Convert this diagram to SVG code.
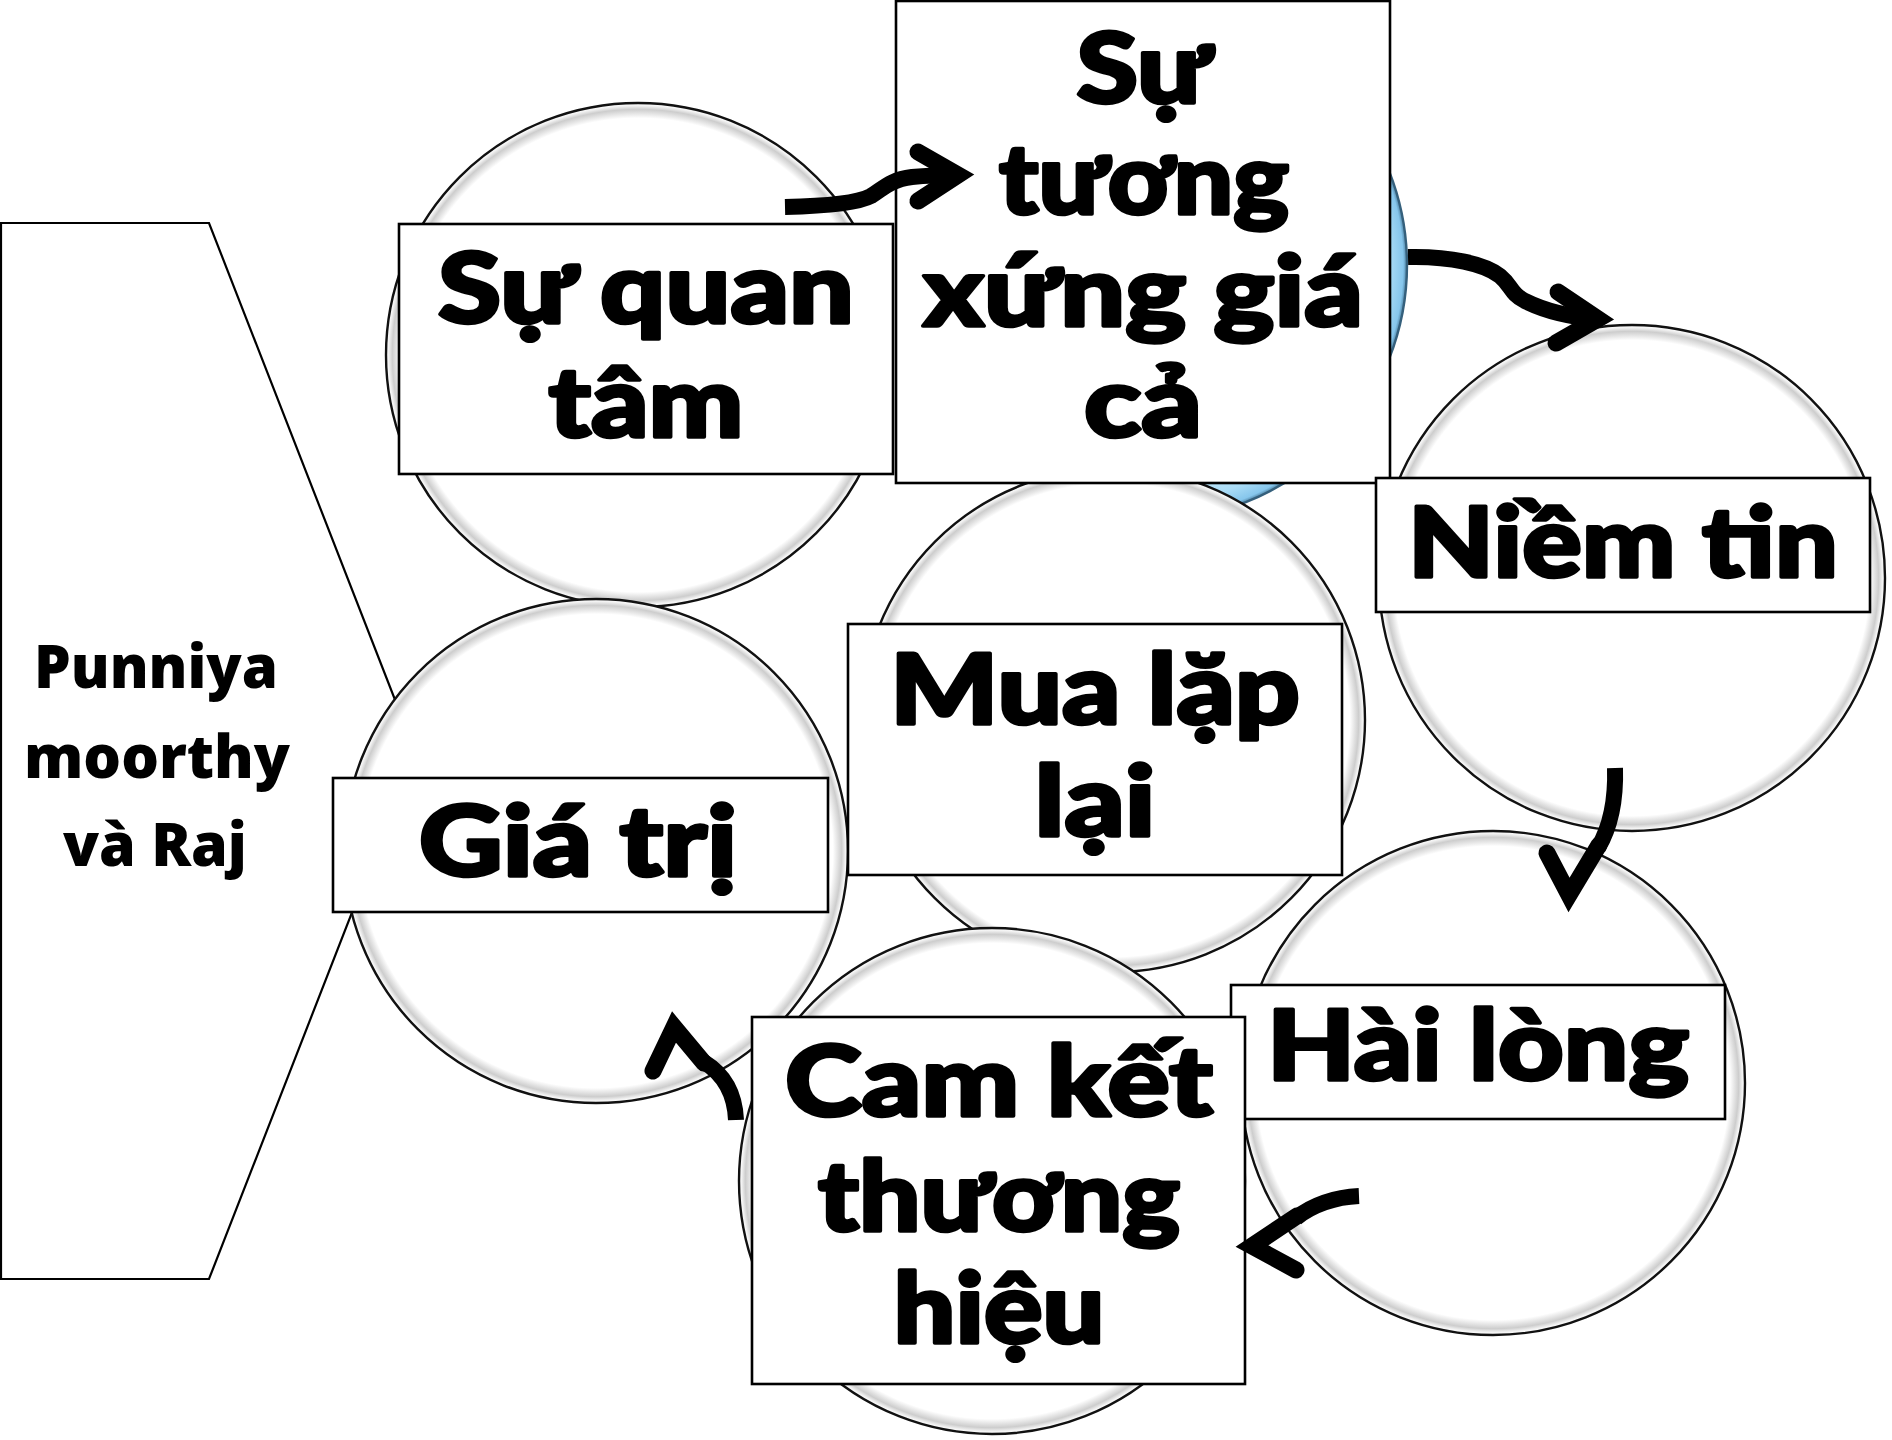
<svg xmlns="http://www.w3.org/2000/svg" width="1892" height="1440" viewBox="0 0 1892 1440">
<style>
.bubble{fill:url(#bubbleFill);stroke:#111;stroke-width:2.4}
.blue{fill:url(#blueFill);stroke:#35607c;stroke-width:2.4}
.box{fill:#fff;stroke:#000;stroke-width:2.6}
.big{font-family:Lato,"Noto Sans",sans-serif;font-weight:900;font-size:98px;fill:#000;stroke:#000;stroke-width:3.5;stroke-linejoin:round;text-anchor:middle}
.side{font-family:"Open Sans","Noto Sans",sans-serif;font-weight:800;font-size:60px;fill:#000;text-anchor:middle}
.shaft{fill:none;stroke:#000;stroke-width:16;stroke-linecap:butt}
.head{fill:none;stroke:#000;stroke-width:17;stroke-linecap:round;stroke-linejoin:miter;stroke-miterlimit:10}
</style>
<defs>
<radialGradient id="bubbleFill" cx="0.5" cy="0.5" r="0.5">
<stop offset="0" stop-color="#fff"/>
<stop offset="0.94" stop-color="#fff"/>
<stop offset="0.975" stop-color="#cdcdcd"/>
<stop offset="0.99" stop-color="#f3f3f3"/>
<stop offset="1" stop-color="#fff"/>
</radialGradient>
<radialGradient id="blueFill" cx="0.5" cy="0.5" r="0.5">
<stop offset="0" stop-color="#fff"/>
<stop offset="0.75" stop-color="#e3f4fc"/>
<stop offset="0.93" stop-color="#aadcf6"/>
<stop offset="0.985" stop-color="#86c6ec"/>
<stop offset="1" stop-color="#4b7fa0"/>
</radialGradient>
</defs>
<rect width="1892" height="1440" fill="#fff"/>

<g id="source">
<polygon points="1,223 209,223 415,751 209,1279 1,1279" fill="#fff" stroke="#000" stroke-width="2.2"/>
<text class="side" x="156" y="688" textLength="244" lengthAdjust="spacingAndGlyphs">Punniya</text>
<text class="side" x="157" y="778" textLength="266" lengthAdjust="spacingAndGlyphs">moorthy</text>
<text class="side" x="155" y="866" textLength="184" lengthAdjust="spacingAndGlyphs">và Raj</text>
</g>

<g id="bubbles">
<circle id="bubble-tuong-xung" class="blue" cx="1152" cy="265" r="255"/>
<circle id="bubble-quan-tam" class="bubble" cx="638" cy="355" r="252"/>
<circle id="bubble-niem-tin" class="bubble" cx="1632" cy="578" r="253"/>
<circle id="bubble-mua-lap-lai" class="bubble" cx="1113" cy="720" r="252"/>
<circle id="bubble-gia-tri" class="bubble" cx="596" cy="851" r="252"/>
<circle id="bubble-hai-long" class="bubble" cx="1493" cy="1083" r="252"/>
<circle id="bubble-cam-ket" class="bubble" cx="992" cy="1181" r="253"/>
</g>

<g id="node-su-quan-tam">
<rect class="box" x="399" y="224" width="494" height="250"/>
<text class="big" x="646" y="323" textLength="416" lengthAdjust="spacingAndGlyphs">Sự quan</text>
<text class="big" x="646" y="437" textLength="195" lengthAdjust="spacingAndGlyphs">tâm</text>
</g>

<g id="node-su-tuong-xung-gia-ca">
<rect class="box" x="896" y="1" width="494" height="482"/>
<text class="big" x="1144" y="103" textLength="135" lengthAdjust="spacingAndGlyphs">Sự</text>
<text class="big" x="1144" y="214" textLength="290" lengthAdjust="spacingAndGlyphs">tương</text>
<text class="big" x="1143" y="326" textLength="440" lengthAdjust="spacingAndGlyphs">xứng giá</text>
<text class="big" x="1143" y="437" textLength="118" lengthAdjust="spacingAndGlyphs">cả</text>
</g>

<g id="node-niem-tin">
<rect class="box" x="1376" y="478" width="494" height="134"/>
<text class="big" x="1623" y="577" textLength="430" lengthAdjust="spacingAndGlyphs">Niềm tin</text>
</g>

<g id="node-mua-lap-lai">
<rect class="box" x="848" y="624" width="494" height="251"/>
<text class="big" x="1095" y="724" textLength="410" lengthAdjust="spacingAndGlyphs">Mua lặp</text>
<text class="big" x="1095" y="836" textLength="121" lengthAdjust="spacingAndGlyphs">lại</text>
</g>

<g id="node-gia-tri">
<rect class="box" x="333" y="778" width="495" height="134"/>
<text class="big" x="578" y="876" textLength="318" lengthAdjust="spacingAndGlyphs">Giá trị</text>
</g>

<g id="node-hai-long">
<rect class="box" x="1231" y="985" width="494" height="134"/>
<text class="big" x="1478" y="1080" textLength="422" lengthAdjust="spacingAndGlyphs">Hài lòng</text>
</g>

<g id="node-cam-ket-thuong-hieu">
<rect class="box" x="752" y="1017" width="493" height="367"/>
<text class="big" x="999" y="1116" textLength="428" lengthAdjust="spacingAndGlyphs">Cam kết</text>
<text class="big" x="999" y="1231" textLength="362" lengthAdjust="spacingAndGlyphs">thương</text>
<text class="big" x="999" y="1343" textLength="211" lengthAdjust="spacingAndGlyphs">hiệu</text>
</g>

<g id="connectors">
<path class="shaft" d="M785,207 C830,206 858,203 871,196 C883,189 889,180 912,177 C932,175 948,175 960,175"/>
<path class="head" d="M918,152 L958,175 L918,201"/>
<path class="shaft" d="M1408,257 C1450,256 1485,264 1500,276 C1512,286 1510,293 1525,301 C1545,311 1572,317 1596,319"/>
<path class="head" d="M1558,292 L1598,319 L1556,343"/>
<path class="shaft" d="M1615,768 C1616,800 1611,826 1598,848"/>
<path class="head" d="M1547,853 L1569,895 L1599,845"/>
<path class="shaft" d="M1359,1196 C1335,1197 1312,1205 1296,1218"/>
<path class="head" d="M1297,1216 L1252,1246 L1296,1270"/>
<path class="shaft" d="M736,1120 C735,1095 725,1075 704,1062"/>
<path class="head" d="M653,1071 L674,1027 L704,1063"/>
</g>
</svg>
